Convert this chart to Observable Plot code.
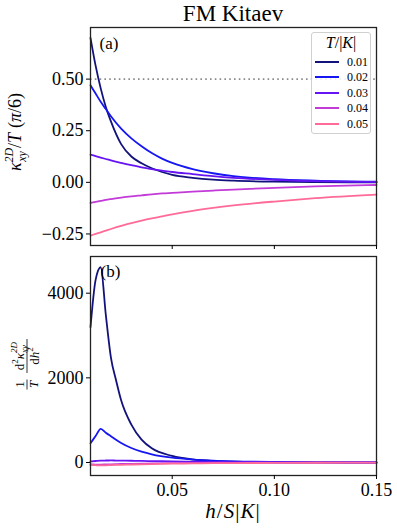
<!DOCTYPE html>
<html>
<head>
<meta charset="utf-8">
<script src="https://cdn.jsdelivr.net/npm/d3@7"></script>
<script src="https://cdn.jsdelivr.net/npm/@observablehq/plot@0.6"></script>
<style>
  body { margin: 0; background: #fff; }
  #fig { position: relative; width: 397px; height: 529px; background: #fff; font-family: "Liberation Serif", serif; color: #000; }
  #fig svg { position: absolute; left: 0; overflow: visible; font-family: "Liberation Serif", serif !important; }
  #fig svg text, #fig svg tspan { font-family: "Liberation Serif", serif !important; }
  .abs { position: absolute; white-space: nowrap; }
</style>
</head>
<body>
<div id="fig"></div>
<script>
// ---------- data ----------
const temps = ["0.01", "0.02", "0.03", "0.04", "0.05"];
const colors = ["#12127c", "#1616f2", "#6614f4", "#c23ad8", "#ff6a98"];

// panel (a): kappa_xy^2D / T in units of pi/6
const hA = [0.01, 0.0125, 0.015, 0.0175, 0.02, 0.025, 0.03, 0.035, 0.04, 0.045, 0.05, 0.06, 0.07, 0.08, 0.10, 0.12, 0.15];
const kA_001 = [0.70, 0.565, 0.455, 0.365, 0.295, 0.185, 0.125, 0.092, 0.068, 0.05, 0.036, 0.022, 0.013, 0.008, 0.003, 0.001, 0.0];
const kA_002 = [0.47, 0.43, 0.39, 0.355, 0.32, 0.26, 0.213, 0.175, 0.142, 0.115, 0.094, 0.064, 0.044, 0.03, 0.015, 0.008, 0.003];
const kA_003 = [0.134, 0.127, 0.12, 0.113, 0.106, 0.094, 0.083, 0.073, 0.064, 0.057, 0.05, 0.04, 0.03, 0.022, 0.012, 0.006, 0.002];
const kA_004 = [-0.10, -0.095, -0.09, -0.085, -0.081, -0.074, -0.068, -0.063, -0.058, -0.054, -0.051, -0.045, -0.04, -0.035, -0.027, -0.02, -0.013];
const kA_005 = [-0.258, -0.25, -0.242, -0.234, -0.226, -0.211, -0.198, -0.186, -0.175, -0.165, -0.155, -0.138, -0.124, -0.112, -0.093, -0.077, -0.06];

// panel (b): (1/T) d^2 kappa / dh^2
const hB = [0.01, 0.0125, 0.015, 0.0175, 0.02, 0.0225, 0.025, 0.03, 0.035, 0.04, 0.05, 0.06, 0.07, 0.08, 0.10, 0.12, 0.15];
const kB_001 = [3196, 4316, 4613, 3490, 2480, 1945, 1470, 895, 540, 335, 155, 72, 35, 18, 6, 2, 0];
const kB_002 = [456, 626, 796, 705, 620, 536, 461, 342, 258, 194, 113, 70, 44, 28, 12, 5, 1];
const kB_003 = [25, 36, 45, 47, 48, 46, 45, 42, 37, 33, 25, 18, 14, 10, 5, 3, 1];
const kB_004 = [-45, -48, -50, -46, -42, -38, -35, -30, -26, -22, -16, -12, -9, -7, -4, -2, -1];
const kB_005 = [-55, -64, -70, -66, -62, -58, -54, -48, -42, -37, -28, -22, -17, -14, -9, -6, -4];

const yTicksA = [-0.25, 0, 0.25, 0.5];
const yTicksB = [0, 2000, 4000];
const xTicks = [0.05, 0.10, 0.15];
const refLine = [0.5];

// ---------- build tables ----------
const seriesA = [kA_001, kA_002, kA_003, kA_004, kA_005];
const seriesB = [kB_001, kB_002, kB_003, kB_004, kB_005];
const rowsA = seriesA.flatMap((vals, i) => vals.map((v, j) => ({h: hA[j], v, T: temps[i]})));
const rowsB = seriesB.flatMap((vals, i) => vals.map((v, j) => ({h: hB[j], v, T: temps[i]})));

const fig = document.getElementById("fig");
const FONT = "Liberation Serif";
const colorScale = {domain: temps, range: colors};
const xScale = {domain: [0.01, 0.15]};

// ---------- panel (a) ----------
const plotA = Plot.plot({
  width: 397, height: 250,
  marginLeft: 90, marginRight: 21, marginTop: 27, marginBottom: 5,
  style: {fontFamily: FONT, fontSize: "18px", color: "#000", background: "transparent"},
  x: xScale,
  y: {domain: [-0.306, 0.75]},
  color: colorScale,
  marks: [
    Plot.ruleY(refLine, {stroke: "#8a8a8a", strokeWidth: 1.6, strokeDasharray: "1.6,3.2"}),
    Plot.line(rowsA, {x: "h", y: "v", z: "T", stroke: "T", strokeWidth: 1.8, curve: "monotone-x"}),
    Plot.frame({stroke: "#222", strokeWidth: 1.3}),
    Plot.axisY({ticks: yTicksA, tickSize: 4, tickPadding: 3, fontSize: 18, label: null, tickFormat: d3.format(".2f")}),
    Plot.axisX({ticks: xTicks, tickSize: 4, label: null, tickFormat: () => ""}),
    Plot.text(["(a)"], {frameAnchor: "top-left", dx: 9, dy: 9, fontSize: 17, textAnchor: "start", lineAnchor: "top"})
  ]
});
plotA.style.top = "0px";
fig.appendChild(plotA);

// y label (a)
{
  const t = d3.select(plotA).append("text")
    .attr("transform", "translate(21,132) rotate(-90)")
    .attr("text-anchor", "middle")
    .attr("font-family", FONT).attr("font-size", 18).attr("fill", "#000");
  t.append("tspan").attr("font-style", "italic").text("κ");
  t.append("tspan").attr("font-size", 12).attr("font-style", "italic").attr("dy", -8).text("2D");
  t.append("tspan").attr("font-size", 12).attr("font-style", "italic").attr("dx", -14).attr("dy", 13).text("xy");
  t.append("tspan").attr("dx", 3).attr("dy", -5).text("/");
  t.append("tspan").attr("font-style", "italic").text("T");
  t.append("tspan").attr("dx", 5).text("(");
  t.append("tspan").attr("font-style", "italic").text("π");
  t.append("tspan").text("/6)");
}

// ---------- panel (b) ----------
const plotB = Plot.plot({
  width: 397, height: 279,
  marginLeft: 90, marginRight: 21, marginTop: 6, marginBottom: 54,
  style: {fontFamily: FONT, fontSize: "18px", color: "#000", background: "transparent"},
  x: xScale,
  y: {domain: [-307, 4867]},
  color: colorScale,
  marks: [
    Plot.line(rowsB, {x: "h", y: "v", z: "T", stroke: "T", strokeWidth: 1.8, curve: "monotone-x"}),
    Plot.frame({stroke: "#222", strokeWidth: 1.3}),
    Plot.axisY({ticks: yTicksB, tickSize: 4, tickPadding: 3, fontSize: 18, label: null, tickFormat: d3.format("d")}),
    Plot.axisX({ticks: xTicks, tickSize: 4, tickPadding: 4, fontSize: 18, label: null, tickFormat: d3.format(".2f")}),
    Plot.text(["(b)"], {frameAnchor: "top-left", dx: 10, dy: 8, fontSize: 17, textAnchor: "start", lineAnchor: "top"})
  ]
});
plotB.style.top = "250px";
fig.appendChild(plotB);

// y label (b): (1/T) d^2 kappa / dh^2 as stacked fractions
{
  const g = d3.select(plotB).append("g")
    .attr("transform", "translate(28,116) rotate(-90)")
    .attr("font-family", FONT);
  const txt = (x, y, size, italic) => g.append("text").attr("x", x).attr("y", y)
    .attr("text-anchor", "middle").attr("font-size", size).attr("fill", "#000")
    .attr("font-style", italic ? "italic" : "normal");
  // 1/T
  txt(-18.5, -4, 13, false).text("1");
  g.append("line").attr("x1", -23.5).attr("x2", -13.5).attr("y1", -1).attr("y2", -1).attr("stroke", "#000").attr("stroke-width", 0.8);
  txt(-18.5, 10, 13, true).text("T");
  // numerator d^2 kappa^{2D}_{xy}
  const num = txt(10, -4, 13, false);
  num.append("tspan").text("d");
  num.append("tspan").attr("font-size", 9).attr("dy", -6).text("2");
  num.append("tspan").attr("font-style", "italic").attr("dy", 6).text("κ");
  num.append("tspan").attr("font-size", 9).attr("font-style", "italic").attr("dy", -7).text("2D");
  num.append("tspan").attr("font-size", 9).attr("font-style", "italic").attr("dx", -11).attr("dy", 10).text("xy");
  g.append("line").attr("x1", -7).attr("x2", 27).attr("y1", -1).attr("y2", -1).attr("stroke", "#000").attr("stroke-width", 0.8);
  const den = txt(10, 11, 13, false);
  den.append("tspan").text("d");
  den.append("tspan").attr("font-style", "italic").text("h");
  den.append("tspan").attr("font-size", 9).attr("dy", -6).text("2");
}

// ---------- title ----------
const title = document.createElement("div");
title.className = "abs";
title.style.cssText = "left:90px;width:286px;top:1px;text-align:center;font-size:23px;";
title.textContent = "FM Kitaev";
fig.appendChild(title);

// ---------- x label ----------
const xl = document.createElement("div");
xl.className = "abs";
xl.style.cssText = "left:90px;width:286px;top:499px;text-align:center;font-size:21px;font-style:italic;letter-spacing:1px;";
xl.innerHTML = "h<span style='font-style:normal'>/</span>S<span style='font-style:normal'>|</span>K<span style='font-style:normal'>|</span>";
fig.appendChild(xl);

// ---------- legend ----------
const leg = document.createElement("div");
leg.className = "abs";
leg.style.cssText = "left:311px;top:32px;width:58px;height:100px;border:1px solid #d0d0d0;border-radius:3px;background:rgba(255,255,255,0.85);";
const lt = document.createElement("div");
lt.className = "abs";
lt.style.cssText = "left:0;width:58px;top:1px;text-align:center;font-size:16px;font-style:italic;";
lt.innerHTML = "T<span style='font-style:normal'>/|</span>K<span style='font-style:normal'>|</span>";
leg.appendChild(lt);
temps.forEach((t, i) => {
  const y = 29 + i * 15.4;
  const ln = document.createElement("div");
  ln.className = "abs";
  ln.style.cssText = `left:3px;top:${y - 1}px;width:24px;height:2px;background:${colors[i]};`;
  leg.appendChild(ln);
  const tx = document.createElement("div");
  tx.className = "abs";
  tx.style.cssText = `left:35px;top:${y - 8}px;font-size:12px;line-height:16px;`;
  tx.textContent = t;
  leg.appendChild(tx);
});
fig.appendChild(leg);
</script>
</body>
</html>
